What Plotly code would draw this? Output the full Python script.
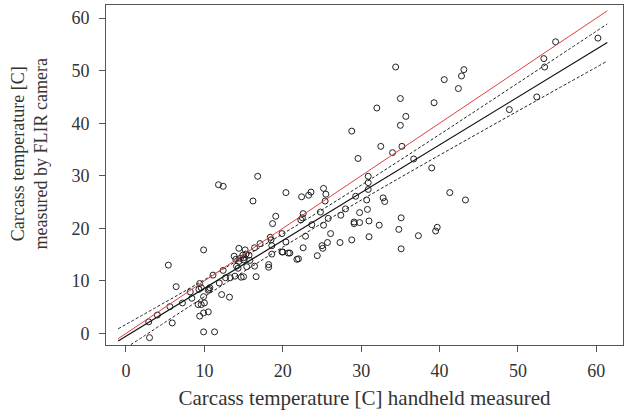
import plotly.graph_objects as go

# Scatter data: handheld (x) vs FLIR camera (y), degrees C
handheld = [28.8, 29.6, 11.8, 12.4, 16.8, 20.4, 22.4, 23.3, 23.6, 25.2, 25.5, 16.2,
            34.4, 40.6, 43.1, 42.8, 42.4, 54.8, 53.3, 53.4, 60.2, 35.0, 32.0, 39.3,
            35.7, 35.0, 32.5, 35.2, 34.0, 36.7, 39.0, 48.9, 52.4, 30.9, 30.9, 30.9,
            41.3, 43.3, 32.8, 33.0, 29.3, 30.7, 30.8, 28.0, 27.4, 29.8, 29.8, 29.1,
            29.1, 31.0, 32.3, 35.1, 34.8, 31.0, 28.8, 27.3, 37.3, 39.7, 39.5, 35.1,
            25.4, 24.8, 25.2, 25.8, 26.1, 25.7, 25.0, 25.1, 24.4, 23.7, 22.6, 22.5,
            22.3, 22.9, 22.6, 22.0, 21.8, 20.9, 20.7, 19.9, 20.4, 19.9, 19.1, 18.7,
            18.4, 18.6, 18.6, 18.2, 18.2, 17.1, 16.4, 16.4, 16.6, 15.7, 15.3, 15.0,
            14.4, 13.8, 14.0, 14.6, 14.4, 15.0, 14.1, 13.9, 14.7, 15.0, 13.3, 12.7,
            12.4, 11.9, 11.1, 10.6, 12.2, 13.2, 9.9, 9.9, 9.4, 9.6, 9.3, 10.5,
            8.2, 8.4, 9.2, 9.6, 10.0, 10.5, 9.9, 9.4, 9.9, 11.3, 7.2, 6.4,
            5.4, 5.6, 5.9, 4.0, 2.9, 3.0, 14.9, 15.8, 15.4, 14.3, 10.7, 15.2,
            18.5, 20.0]
flir = [38.5, 33.3, 28.3, 28.0, 29.9, 26.8, 26.0, 26.3, 26.9, 27.6, 26.5, 25.2,
        50.7, 48.3, 50.2, 49.0, 46.6, 55.5, 52.3, 50.7, 56.2, 44.7, 42.9, 43.9,
        41.3, 39.6, 35.6, 35.6, 34.4, 33.2, 31.5, 42.6, 45.0, 29.9, 28.7, 27.4,
        26.8, 25.4, 25.8, 25.1, 26.1, 25.4, 23.6, 23.7, 22.5, 23.0, 21.1, 21.2,
        20.9, 21.4, 20.6, 22.0, 19.8, 18.4, 17.8, 17.3, 18.6, 20.2, 19.5, 16.1,
        25.2, 23.1, 20.6, 21.9, 19.0, 17.3, 16.7, 16.2, 14.8, 20.7, 22.8, 22.0,
        21.6, 18.5, 16.3, 14.2, 14.1, 15.3, 15.3, 15.5, 17.4, 19.0, 22.3, 20.9,
        18.3, 16.7, 15.1, 13.1, 12.6, 17.1, 16.3, 12.8, 10.8, 14.9, 15.1, 14.4,
        16.2, 14.7, 14.1, 14.3, 13.7, 14.0, 12.8, 10.9, 10.7, 10.8, 10.6, 10.6,
        12.0, 9.6, 11.1, 8.4, 7.4, 6.9, 15.9, 7.0, 9.5, 8.7, 8.4, 8.2,
        7.9, 6.7, 5.5, 5.5, 5.8, 4.1, 3.9, 3.3, 0.3, 0.3, 5.8, 8.9,
        13.0, 5.1, 2.0, 3.5, 2.2, -0.8, 14.9, 13.9, 12.7, 12.4, 8.7, 15.9,
        17.8, 15.5]

# Identity line (red) and fitted regression line (black)
ident_x = [-1.0, 61.4]
ident_y = [-1.0, 61.4]
fit_x = [-1.0, 61.4]
fit_y = [-1.42, 55.36]

# Confidence band (dashed), read at these x positions
band_x = [-1, 5, 10, 15, 20, 25, 30, 35, 40, 45, 50, 55, 61.4]
band_upper = [0.88, 5.94, 10.20, 14.53, 18.96, 23.52, 28.21, 33.00, 37.85, 42.74, 47.65, 52.58, 58.89]
band_lower = [-3.72, 2.14, 6.98, 11.75, 16.42, 20.96, 25.37, 29.68, 33.93, 38.14, 42.33, 46.50, 51.83]

x_ticks = [0, 10, 20, 30, 40, 50, 60]
y_ticks = [0, 10, 20, 30, 40, 50, 60]

FONT = "Liberation Serif"

fig = go.Figure()
fig.add_trace(go.Scatter(x=handheld, y=flir, mode="markers",
                         marker=dict(symbol="circle-open", size=6, color="#222",
                                     line=dict(width=1, color="#222")),
                         showlegend=False))
fig.add_trace(go.Scatter(x=band_x, y=band_upper, mode="lines", line_shape="spline",
                         line=dict(color="#222", width=1, dash="3px,2px"), showlegend=False))
fig.add_trace(go.Scatter(x=band_x, y=band_lower, mode="lines", line_shape="spline",
                         line=dict(color="#222", width=1, dash="3px,2px"), showlegend=False))
fig.add_trace(go.Scatter(x=fit_x, y=fit_y, mode="lines",
                         line=dict(color="#111", width=1.2), showlegend=False))
fig.add_trace(go.Scatter(x=ident_x, y=ident_y, mode="lines",
                         line=dict(color="#e04040", width=1), showlegend=False))

axis_common = dict(showgrid=False, zeroline=False, showline=True, mirror=True,
                   linecolor="#555", linewidth=1, ticks="outside", ticklen=6,
                   tickcolor="#555", tickwidth=1,
                   tickfont=dict(family=FONT, size=18, color="#333"))

fig.update_xaxes(range=[-2.55, 63.4], tickvals=x_ticks, ticklabelstandoff=3, **axis_common,
                 title=dict(text="Carcass temperature [C] handheld measured",
                            font=dict(family=FONT, size=21, color="#333"), standoff=10))
fig.update_yaxes(range=[-2.2, 62.5], tickvals=y_ticks, ticklabelstandoff=6, **axis_common)

fig.add_annotation(text="Carcass temperature [C]<br>measured by FLIR camera",
                   xref="paper", yref="paper", x=-0.148, y=0.562,
                   xanchor="center", yanchor="middle", textangle=-90, showarrow=False,
                   font=dict(family=FONT, size=18, color="#333"))

fig.update_layout(width=624, height=411, plot_bgcolor="white", paper_bgcolor="white",
                  margin=dict(l=106, r=1, t=5, b=66))

fig.write_html("out.html", config={"displayModeBar": False},
               post_script="document.body.style.margin='0px';")
